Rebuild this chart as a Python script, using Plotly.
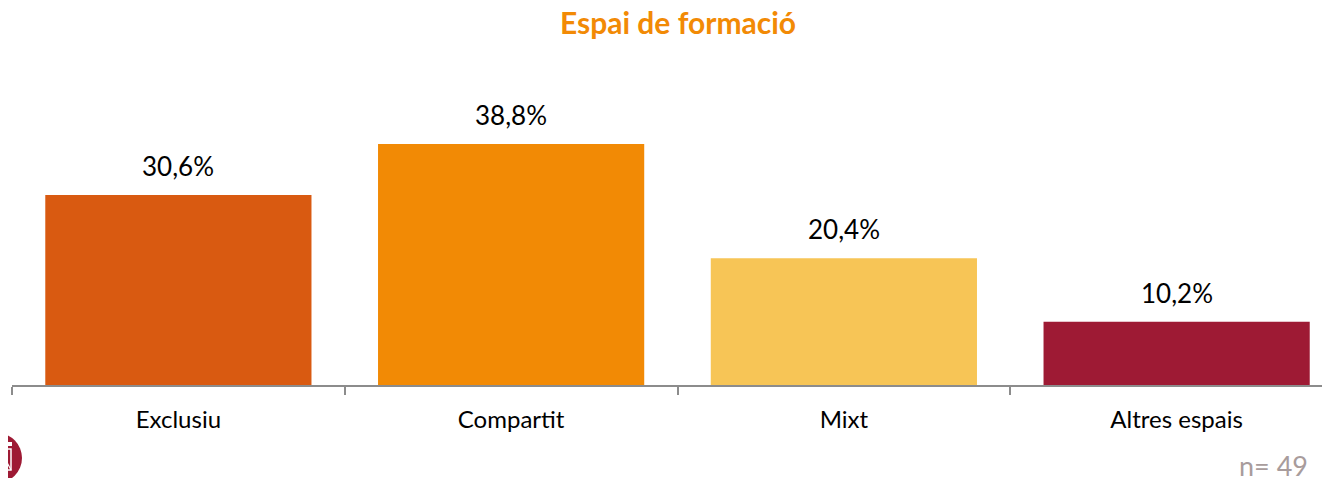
import plotly.graph_objects as go

categories = ["Exclusiu", "Compartit", "Mixt", "Altres espais"]
values = [30.6, 38.8, 20.4, 10.2]
colors = ["#D95A11", "#F28A05", "#F7C556", "#9E1A34"]
title_text = "Espai de formació"
sample_note = "n= 49"

FONT = "Lato, 'Open Sans', sans-serif"
W, H = 1330, 478
ML, MT, MB = 4, 42, 101          # page body adds an 8px offset
PW = W - ML                      # plot width (r = 0)
PH = H - MT - MB                 # plot height
PX = lambda fx: (fx - ML) / PW   # figure px -> paper x
PY = lambda fy: (H - MB - fy) / PH  # figure px -> paper y

fig = go.Figure(
    go.Bar(
        x=categories,
        y=values,
        marker=dict(color=colors, line=dict(width=0)),
        hoverinfo="skip",
    )
)

annotations = []
for c, v in zip(categories, values):
    annotations.append(dict(
        x=c, y=v, text=f"{v:.1f}%".replace(".", ","),
        showarrow=False, yanchor="bottom", yshift=11,
        font=dict(family=FONT, size=26, color="#000000"),
    ))
annotations.append(dict(
    x=PX(1302), xref="paper", y=PY(457), yref="paper",
    text=sample_note, showarrow=False, xanchor="right", yanchor="middle",
    font=dict(family=FONT, size=27, color="#A89C9C"),
))

shapes = [
    dict(type="circle", xref="paper", yref="paper",
         x0=PX(-36), x1=PX(14), y0=PY(475), y1=PY(425),
         fillcolor="#9E1A34", line=dict(width=0), layer="above"),
    # simple crest details
    dict(type="rect", xref="paper", yref="paper",
         x0=PX(-8), x1=PX(3), y0=PY(462), y1=PY(441),
         fillcolor="rgba(0,0,0,0)", line=dict(color="white", width=1.5), layer="above"),
    dict(type="line", xref="paper", yref="paper",
         x0=PX(-8), x1=PX(3), y0=PY(441), y1=PY(462),
         line=dict(color="white", width=1.2), layer="above"),
    dict(type="rect", xref="paper", yref="paper",
         x0=PX(-8), x1=PX(4), y0=PY(438), y1=PY(434),
         fillcolor="white", line=dict(width=0), layer="above"),
]

fig.update_layout(
    width=W, height=H,
    margin=dict(l=ML, r=0, t=MT, b=MB, autoexpand=False),
    paper_bgcolor="white", plot_bgcolor="white",
    bargap=0.2,
    showlegend=False,
    font=dict(family=FONT, size=24, color="#000000"),
    title=dict(
        text=f"<b>{title_text}</b>", x=670 / W, xanchor="center",
        y=1 - 15 / H, yref="container", yanchor="middle",
        font=dict(family=FONT, size=30, color="#F28A05"),
    ),
    annotations=annotations,
    xaxis=dict(
        range=[-0.5, -0.5 + PW / 332.75], showgrid=False, zeroline=False,
        showline=True, linecolor="#8C8C8C", linewidth=1.5,
        ticks="outside", tickson="boundaries", ticklen=8, tickcolor="#8C8C8C",
        tickwidth=1.5, ticklabelstandoff=12,
        tickfont=dict(family=FONT, size=24, color="#000000"),
    ),
    yaxis=dict(range=[0, PH / 6.21], visible=False),
    shapes=shapes,
)

fig.write_html("out.html")
